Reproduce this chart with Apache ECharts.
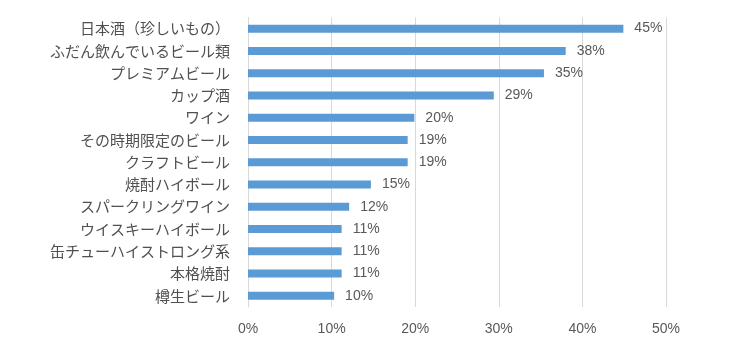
<!DOCTYPE html>
<html><head><meta charset="utf-8">
<script src="https://cdn.jsdelivr.net/npm/echarts@6/dist/echarts.min.js"></script>
<style>html,body{margin:0;padding:0;background:#fff}#c{width:750px;height:363px}</style>
</head><body><div id="c"></div>
<script>
const categories = ['日本酒（珍しいもの）','ふだん飲んでいるビール類','プレミアムビール','カップ酒','ワイン','その時期限定のビール','クラフトビール','焼酎ハイボール','スパークリングワイン','ウイスキーハイボール','缶チューハイストロング系','本格焼酎','樽生ビール'];
const values = [44.9, 38.0, 35.4, 29.4, 19.9, 19.1, 19.1, 14.7, 12.1, 11.2, 11.2, 11.2, 10.3];
const xTicks = [0, 10, 20, 30, 40, 50];

const chart = echarts.init(document.getElementById('c'));
chart.setOption({
  animation: false,
  grid: {left: 248, right: 84, top: 17.5, bottom: 56, containLabel: false},
  xAxis: {
    type: 'value', min: xTicks[0], max: xTicks[xTicks.length-1], interval: 10,
    axisLine: {show: false}, axisTick: {show: false},
    splitLine: {lineStyle: {color: '#d9d9d9', width: 1}},
    axisLabel: {formatter: v => v + '%', color: '#595959', fontSize: 14, margin: 15, fontFamily: 'Liberation Sans'}
  },
  yAxis: {
    type: 'category', data: categories, inverse: true,
    axisLine: {show: true, lineStyle: {color: '#d9d9d9'}}, axisTick: {show: false},
    axisLabel: {color: '#505050', fontSize: 15, margin: 18, fontFamily: 'Noto Sans CJK JP'}
  },
  series: [{
    type: 'bar', data: values, barWidth: 8,
    itemStyle: {color: '#5b9bd5'},
    label: {show: true, position: 'right', distance: 11, color: '#595959', fontSize: 14, fontFamily: 'Liberation Sans',
      formatter: p => Math.round(p.value) + '%'}
  }]
});
</script></body></html>
